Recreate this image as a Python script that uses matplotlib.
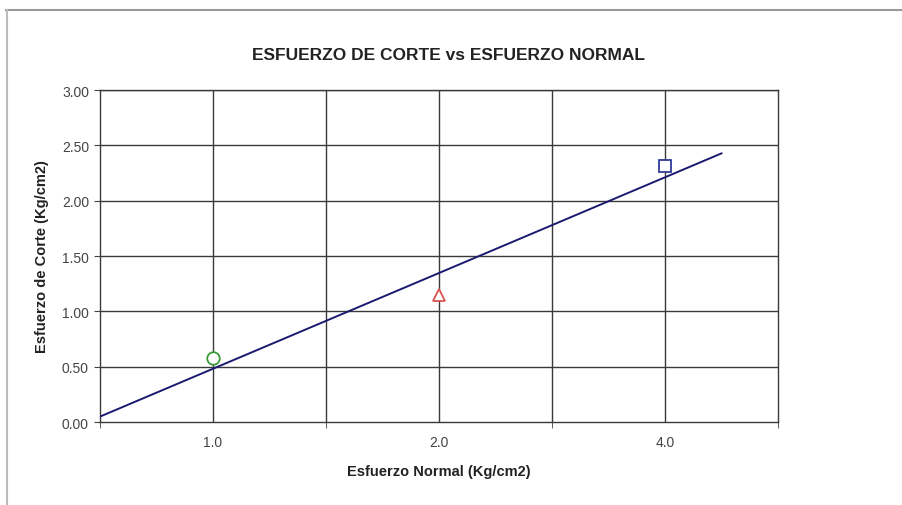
import matplotlib.pyplot as plt
from matplotlib.lines import Line2D
import numpy as np

plt.rcParams['font.family'] = ['Liberation Sans', 'DejaVu Sans']

# Ensayo de corte directo: tres especimenes
normal_labels = ['1.0', '2.0', '4.0']
shear_values = [0.58, 1.15, 2.31]
marker_styles = ['o', '^', 's']
marker_colors = ['#3a9a3a', '#d9534f', '#2f3a9a']

positions = np.arange(1, len(normal_labels) + 1)

# linear trend over the category index, extended like a spreadsheet trendline
slope, intercept = np.polyfit(positions, shear_values, 1)
trend_x = np.array([0.5, 3.25])
trend_y = slope * trend_x + intercept

fig = plt.figure(figsize=(9.02, 5.06), dpi=100)
ax = fig.add_axes([0.1109, 0.164, 0.7516, 0.656])

ax.plot(trend_x, trend_y, color='#1a1a70', lw=1.4, zorder=3)
for xp, yv, m, c in zip(positions, shear_values, marker_styles, marker_colors):
    ax.plot(xp, yv, marker=m, ms=9, mfc='white', mec=c, mew=1.3,
            linestyle='none', zorder=4)

ax.set_xlim(0.5, 3.5)
ax.set_ylim(0, 3.0)

ax.set_yticks(np.arange(0, 3.01, 0.5))
ax.set_yticklabels([f'{v:.2f}' for v in np.arange(0, 3.01, 0.5)])
ax.set_xticks(positions)
ax.set_xticklabels(normal_labels)
ax.set_xticks([0.5, 1.5, 2.5, 3.5], minor=True)
ax.tick_params(axis='x', which='major', length=0, pad=9)
ax.tick_params(axis='x', which='minor', length=4, direction='out', color='#444444')
ax.tick_params(axis='y', length=4, direction='out', color='#444444', pad=4)
ax.tick_params(labelsize=10, labelcolor='#444444')

# gridlines every half category and every 0.5 on y
for gx in [1.0, 1.5, 2.0, 2.5, 3.0]:
    ax.axvline(gx, color='#3a3a3a', lw=1.0, zorder=1)
for gy in np.arange(0.5, 3.01, 0.5):
    ax.axhline(gy, color='#3a3a3a', lw=1.0, zorder=1)

for side in ['top', 'right', 'bottom', 'left']:
    ax.spines[side].set_color('#3a3a3a')
    ax.spines[side].set_linewidth(1.0)

fig.text(0.497, 0.891, 'ESFUERZO DE CORTE vs ESFUERZO NORMAL', ha='center',
         va='center', fontsize=12.5, fontweight='bold', color='#222222')
ax.set_xlabel('Esfuerzo Normal (Kg/cm2)', fontsize=10.5, fontweight='bold',
              color='#222222', labelpad=11)
ax.set_ylabel('Esfuerzo de Corte (Kg/cm2)', fontsize=10.5, fontweight='bold',
              color='#222222', labelpad=9)

# outer frame of the chart area
fig.add_artist(Line2D([6 / 902, 1.0], [1 - 11 / 506, 1 - 11 / 506],
                      transform=fig.transFigure, color='#999999', lw=1.5))
fig.add_artist(Line2D([7 / 902, 7 / 902], [0.0, 1 - 11 / 506],
                      transform=fig.transFigure, color='#bbbbbb', lw=1.5))

fig.savefig('out.png', dpi=100, facecolor='white')
